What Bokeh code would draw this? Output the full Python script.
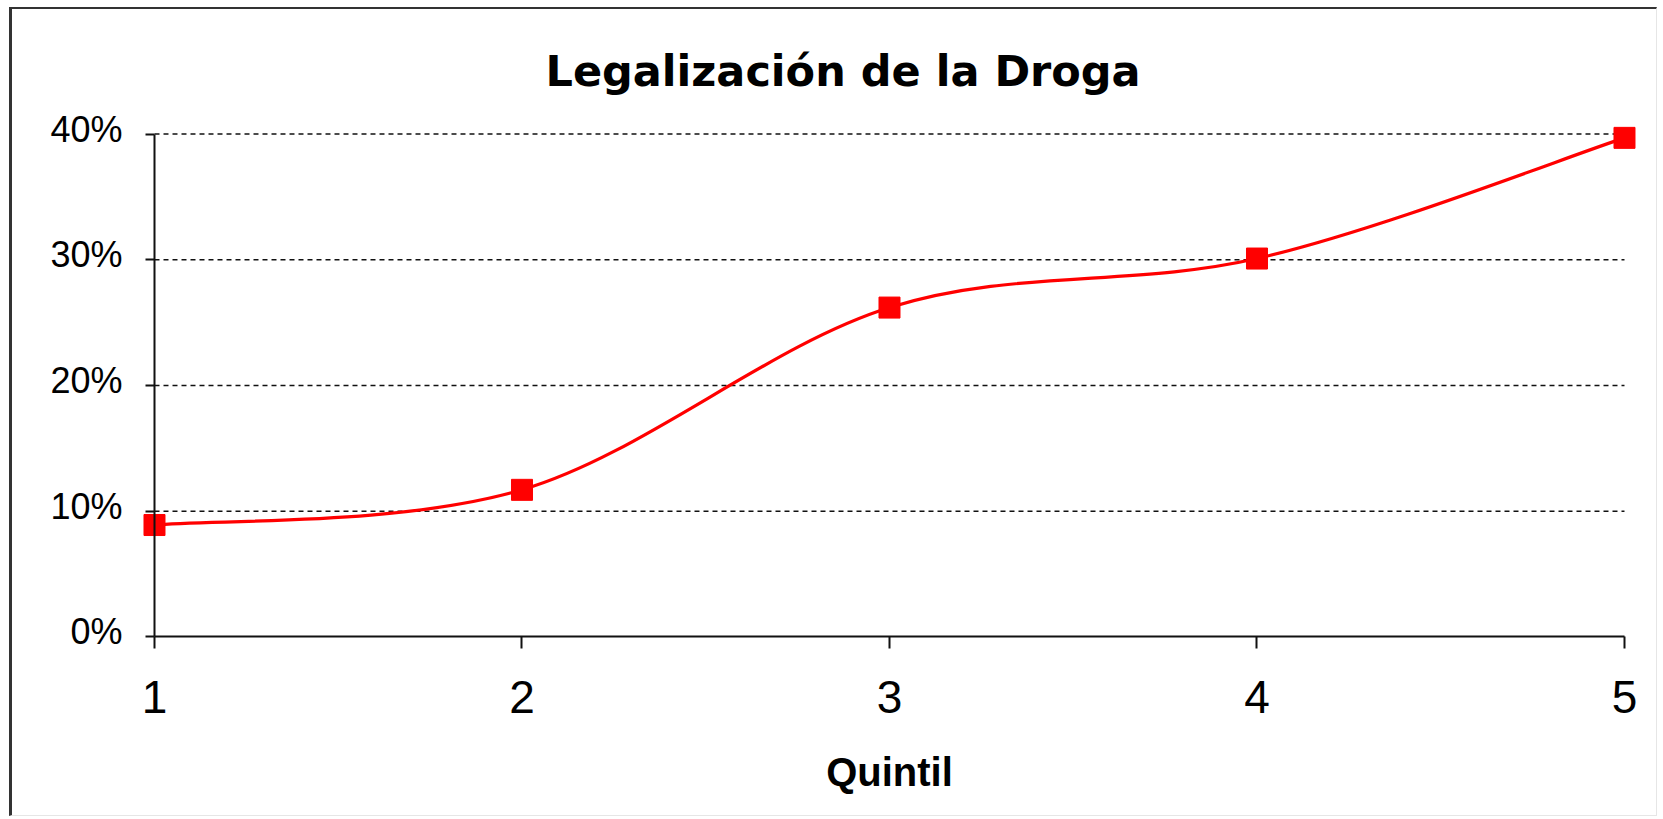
from bokeh.plotting import figure
from bokeh.models import Range1d, LinearAxis, FixedTicker, Title
from bokeh.embed import file_html
from bokeh.resources import INLINE

# ---- data ----
quintiles = [1, 2, 3, 4, 5]
values = [0.089, 0.117, 0.262, 0.301, 0.397]
y_ticks = [0, 0.1, 0.2, 0.3, 0.4]
y_tick_labels = ["0%", "10%", "20%", "30%", "40%"]
x_tick_labels = ["1", "2", "3", "4", "5"]
title_text = "Legalización de la Droga"
x_label = "Quintil"

FONT = "Liberation Sans"
TITLE_FONT = "DejaVu Sans"
RED = "#FF0000"
AXIS = "#111111"

# smoothed line (Excel-style Bezier) control points from the data
n = len(quintiles)
def pt(i):
    i = max(0, min(n - 1, i))
    return quintiles[i], values[i]

bx0, by0, bx1, by1, bcx0, bcy0, bcx1, bcy1 = [], [], [], [], [], [], [], []
for i in range(n - 1):
    xa, ya = pt(i)
    xb, yb = pt(i + 1)
    xp, yp = pt(i - 1)
    xn, yn = pt(i + 2)
    bx0.append(xa); by0.append(ya)
    bx1.append(xb); by1.append(yb)
    bcx0.append(xa + (xb - xp) / 6.0); bcy0.append(ya + (yb - yp) / 6.0)
    bcx1.append(xb - (xn - xa) / 6.0); bcy1.append(yb - (yn - ya) / 6.0)

Y0, Y1 = -0.139698, 0.420366
FRAME_H = 704
# the frame covers the axes' labels too, because fixed-location axes are
# clipped to the frame
p = figure(
    frame_width=1635, frame_height=FRAME_H,
    x_range=Range1d(0.621769, 5.070749), y_range=Range1d(Y0, Y1),
    output_backend="svg", toolbar_location=None,
    x_axis_location=None, y_axis_location=None,
    min_border_left=3, min_border_right=6,
    min_border_top=99, min_border_bottom=3,
    background_fill_color="white", border_fill_color="white",
)
p.outline_line_color = None
p.styles = {
    "margin-left": "9px", "margin-top": "7px",
    "border-left": "3px solid #333333", "border-top": "2px solid #333333",
    "border-right": "1px solid #e6e6e6", "border-bottom": "1px solid #e6e6e6",
}

# y tick labels sit ~5px above their tick
shift = 5.0 * (Y1 - Y0) / FRAME_H
p.extra_y_ranges = {"ylab": Range1d(Y0 - shift, Y1 - shift)}

for g in p.grid:
    g.visible = False

# title
title = Title(text=title_text, align="left", offset=530, standoff=25,
              text_font=TITLE_FONT, text_font_size="43px", text_font_style="bold",
              text_color="black", vertical_align="bottom")
p.add_layout(title, "above")

# y axis line + ticks at x = first quintile
yaxis = LinearAxis(
    fixed_location=quintiles[0], bounds=(y_ticks[0], y_ticks[-1]),
    ticker=FixedTicker(ticks=y_ticks),
)
yaxis.axis_line_color = AXIS
yaxis.axis_line_width = 2
yaxis.major_tick_line_color = AXIS
yaxis.major_tick_line_width = 2
yaxis.major_tick_out = 9
yaxis.major_tick_in = 0
yaxis.minor_tick_line_color = None
yaxis.major_label_text_color = None
p.add_layout(yaxis, "left")

# y tick labels
ylab = LinearAxis(
    y_range_name="ylab", fixed_location=quintiles[0],
    bounds=(y_ticks[0], y_ticks[-1]),
    ticker=FixedTicker(ticks=y_ticks),
    major_label_overrides={t: l for t, l in zip(y_ticks, y_tick_labels)},
)
ylab.axis_line_color = None
ylab.major_tick_line_color = None
ylab.minor_tick_line_color = None
ylab.major_tick_out = 0
ylab.major_tick_in = 0
ylab.major_label_standoff = 32
ylab.major_label_text_font = FONT
ylab.major_label_text_font_size = "36px"
ylab.major_label_text_color = "black"
p.add_layout(ylab, "left")

# x axis at y = 0
xaxis = LinearAxis(
    fixed_location=y_ticks[0], bounds=(quintiles[0], quintiles[-1]),
    ticker=FixedTicker(ticks=quintiles),
    major_label_overrides={q: l for q, l in zip(quintiles, x_tick_labels)},
)
xaxis.axis_line_color = AXIS
xaxis.axis_line_width = 2
xaxis.major_tick_line_color = AXIS
xaxis.major_tick_line_width = 2
xaxis.major_tick_out = 12
xaxis.major_tick_in = 0
xaxis.minor_tick_line_color = None
xaxis.major_label_standoff = 32
xaxis.major_label_text_font = FONT
xaxis.major_label_text_font_size = "46px"
xaxis.major_label_text_color = "black"
xaxis.axis_label = x_label
xaxis.axis_label_text_font = FONT
xaxis.axis_label_text_font_size = "40px"
xaxis.axis_label_text_font_style = "bold"
xaxis.axis_label_text_color = "black"
xaxis.axis_label_standoff = 34
p.add_layout(xaxis, "below")

# dashed horizontal gridlines between first and last quintile
grid_y = [t for t in y_ticks if t > 0]
p.segment(x0=[quintiles[0]] * len(grid_y), x1=[quintiles[-1]] * len(grid_y),
          y0=grid_y, y1=grid_y, line_color=AXIS, line_width=1.5,
          line_dash="5 4")

# smoothed red line
p.bezier(x0=bx0, y0=by0, x1=bx1, y1=by1, cx0=bcx0, cy0=bcy0, cx1=bcx1, cy1=bcy1,
         line_color=RED, line_width=3.2)

# square markers
p.scatter(x=quintiles, y=values, marker="square", size=21,
          fill_color=RED, line_color=RED)

open("out.html", "w").write(file_html(p, INLINE))
